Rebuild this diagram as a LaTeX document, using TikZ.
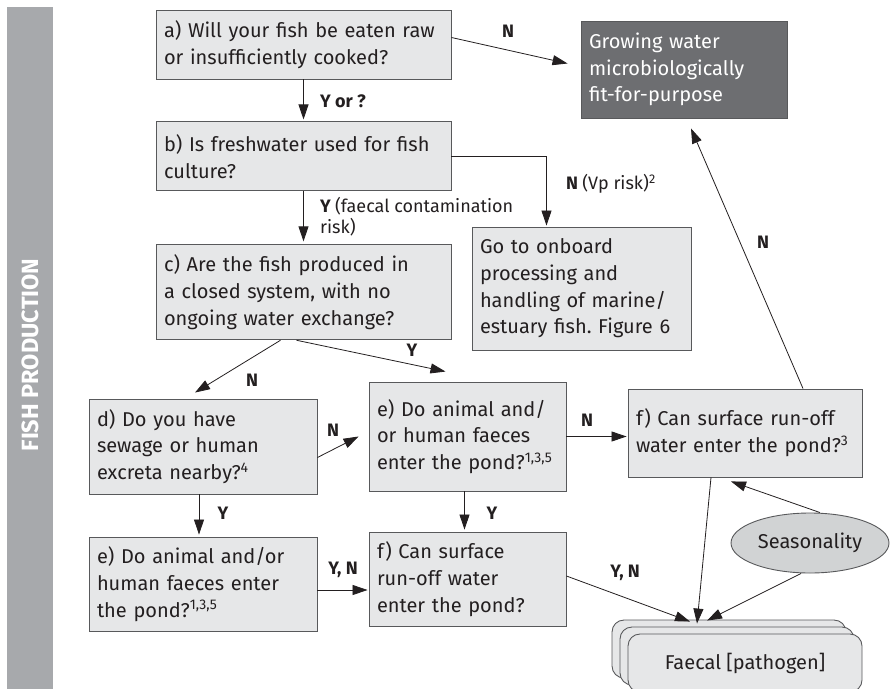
\documentclass[tikz,border=0pt]{standalone}
\usepackage{fontspec}
\setmainfont{Fira Sans}
\frenchspacing
\usetikzlibrary{arrows.meta}
\usetikzlibrary{positioning}
\usetikzlibrary{shapes.geometric}

\definecolor{boxfill}{HTML}{E6E7E8}
\definecolor{boxline}{HTML}{58595B}
\definecolor{darkfill}{HTML}{6D6E71}
\definecolor{barfill}{HTML}{A7A9AC}
\definecolor{ovalfill}{HTML}{D1D3D4}
\definecolor{inkcol}{HTML}{231F20}

\newcommand{\boxfont}{\fontsize{20}{26.7}\selectfont}
\newcommand{\lblfont}{\fontsize{18}{21}\selectfont}

\tikzset{
  qbox/.style={draw=boxline,fill=boxfill,line width=0.9pt,text=inkcol,align=left,
    inner xsep=8pt,inner ysep=0pt,font=\boxfont},
  endbox/.style={qbox,fill=darkfill,text=white},
  stackbox/.style={draw=boxline,fill=boxfill,line width=0.9pt,rounded corners=12pt,
    minimum width=234pt,minimum height=58pt,text=inkcol,font=\boxfont},
  oval/.style={ellipse,draw=boxline,fill=ovalfill,line width=0.9pt,text=inkcol,
    minimum width=158pt,minimum height=60pt,inner sep=0pt,font=\boxfont},
  arr/.style={draw=inkcol,line width=0.8pt,-{Triangle[length=15pt,width=10pt]}},
  lbl/.style={text=inkcol,inner sep=0pt,font=\lblfont\bfseries}
}

\begin{document}
\begin{tikzpicture}[x=1pt,y=-1pt]
		\useasboundingbox (0,0) rectangle (890,688);
		\clip (0,0) rectangle (890,688);

		% side bar
		\fill [barfill] (7,7) rectangle (53,700);
		\node [rotate=90,text=white,font=\fontsize{23.5}{26}\selectfont\bfseries] (sidebar) at (30,355) {FISH PRODUCTION};

		% questions
		\node [qbox,text width=279pt,minimum height=69pt] (qa) at (303.5,44.5)
			{a) Will your fish be eaten raw\\or insufficiently cooked?};
		\node [qbox,text width=279pt,minimum height=69pt,below=42pt of qa] (qb)
			{b) Is freshwater used for fish\\culture?};
		\node [qbox,text width=279pt,minimum height=95pt,below=53pt of qb] (qc)
			{c) Are the fish produced in\\a closed system, with no\\ongoing water exchange?};
		\node [endbox,text width=190pt,minimum height=97pt] (grow) at (684,69.5)
			{Growing water\\microbiologically\\fit-for-purpose};
		\node [qbox,text width=203pt,minimum height=123pt] (onboard) at (581.5,288.5)
			{Go to onboard\\processing and\\handling of marine/\\estuary fish. Figure 6};
		\node [qbox,text width=212pt,minimum height=95pt] (qd) at (203,446.5)
			{d) Do you have\\sewage or human\\excreta nearby?\textsuperscript{4}};
		\node [qbox,text width=181pt,minimum height=109pt] (qe1) at (467.5,436.5)
			{e) Do animal and/\\or human faeces\\enter the pond?\textsuperscript{1,3,5}};
		\node [qbox,text width=218pt,minimum height=88pt] (qf1) at (745,433)
			{f) Can surface run-off\\water enter the pond?\textsuperscript{3}};
		\node [qbox,text width=212pt,minimum height=94pt] (qe2) at (203,584)
			{e) Do animal and/or\\human faeces enter\\the pond?\textsuperscript{1,3,5}};
		\node [qbox,text width=181pt,minimum height=94pt] (qf2) at (467.5,579)
			{f) Can surface\\run-off water\\enter the pond?};
		\node [oval] (season) at (810,543) {Seasonality};

		% stacked outcome
		\node [stackbox] (fcback) at (729,649) {};
		\node [stackbox] (fcmid) at (737,656) {};
		\node [stackbox] (fcfront) at (745,663) {Faecal [pathogen]};

		% connectors
		\draw [arr] ([yshift=7pt]qa.east) -- ([xshift=-13pt,yshift=6pt]grow.west);
		\draw [arr,shorten >=2pt] (qa.south) -- (qb.north);
		\draw [arr,shorten >=1pt] (qb.east) -| ([xshift=-35pt]onboard.north);
		\draw [arr,shorten >=3pt] (qb.south) -- (qc.north);
		\draw [arr] ([xshift=-23pt]qc.south) -- ([xshift=-8pt,yshift=6pt]qd.north);
		\draw [arr] ([xshift=-7pt]qc.south) -- ([xshift=-22pt,yshift=10pt]qe1.north);
		\draw [arr] ([yshift=-11pt]qd.east) -- ([xshift=-10pt]qe1.west);
		\draw [arr,shorten >=2pt] ([xshift=-4pt]qd.south) -- ([xshift=-4pt]qe2.north);
		\draw [arr,shorten >=1pt] ([yshift=-6pt]qe2.east) -- ([yshift=-11pt]qf2.west);
		\draw [arr,shorten >=1pt] (qe1.east) -- (qe1.east -| qf1.west);
		\draw [arr,shorten >=2pt] ([xshift=-3pt]qe1.south) -- ([xshift=-3pt]qf2.north);
		\draw [arr] ([xshift=58pt]qf1.north) -- ([xshift=7pt,yshift=-10pt]grow.south);
		\draw [arr] ([yshift=3pt]qf2.east) -- ([xshift=-39pt,yshift=-2pt]fcback.north);
		\draw [arr] ([xshift=-34pt]qf1.south) -- ([xshift=-32pt,yshift=-4pt]fcback.north);
		\draw [arr] ([xshift=-9pt]season.south) -- ([xshift=-22pt,yshift=-1pt]fcback.north);
		\draw [arr] ([xshift=10pt]season.north) -- ([xshift=-14pt,yshift=-4pt]qf1.south);

		% connector labels
		\node [lbl] (lblaN) at (508,31) {N};
		\node [lbl,anchor=west] (lblaY) at (320,101) {Y or ?};
		\node [lbl,anchor=west] (lblbN) at (566,184) {N \mdseries(Vp risk)\textsuperscript{2}};
		\node [lbl,anchor=west,align=left] (lblbY) at (320,217) {Y \mdseries(faecal contamination\\\mdseries risk)};
		\node [lbl] (lblcN) at (252,380) {N};
		\node [lbl] (lblcY) at (412,350) {Y};
		\node [lbl] (lbldN) at (333,430) {N};
		\node [lbl] (lbldY) at (223,513) {Y};
		\node [lbl] (lbleN) at (587,420) {N};
		\node [lbl] (lbleY) at (492,513) {Y};
		\node [lbl] (lblfN) at (763,242) {N};
		\node [lbl] (lblgYN) at (343,570) {Y, N};
		\node [lbl] (lblhYN) at (625,573) {Y, N};
	\end{tikzpicture}
\end{document}
